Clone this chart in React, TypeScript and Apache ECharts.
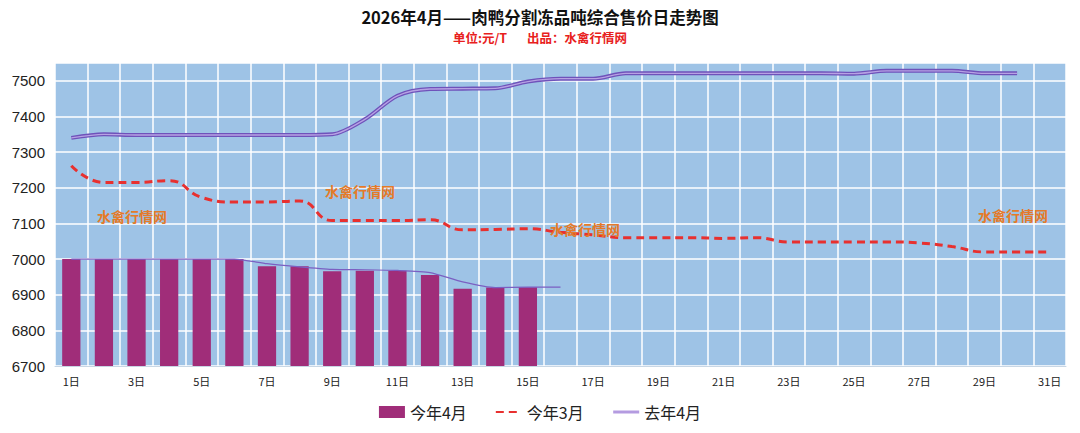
import React, { useEffect, useRef } from "react";
import * as echarts from "echarts";

const days = [
  "1日","2日","3日","4日","5日","6日","7日","8日","9日","10日",
  "11日","12日","13日","14日","15日","16日","17日","18日","19日","20日",
  "21日","22日","23日","24日","25日","26日","27日","28日","29日","30日","31日",
];

// 今年4月 (bars)
const thisApril = [7000, 7000, 7000, 7000, 7000, 7000, 6980, 6980, 6966, 6967, 6967, 6955, 6917, 6920, 6921];

// thin trend line drawn over the bars
const thisAprilTrend = [7000, 7000, 7000, 7000, 7000, 7000, 6987, 6978, 6971, 6970, 6968, 6962, 6936, 6920, 6921, 6921];

// 今年3月
const thisMarch = [
  7262, 7215, 7215, 7220, 7173, 7160, 7160, 7163, 7108, 7108,
  7108, 7110, 7082, 7083, 7085, 7075, 7068, 7060, 7060, 7060,
  7058, 7060, 7048, 7048, 7048, 7048, 7045, 7035, 7020, 7020, 7020,
];

// 去年4月
const lastApril = [
  7340, 7350, 7348, 7348, 7348, 7348, 7348, 7348, 7350, 7392,
  7458, 7477, 7478, 7479, 7498, 7506, 7506, 7521, 7521, 7521,
  7521, 7521, 7521, 7521, 7520, 7528, 7528, 7528, 7521, 7521,
];

const yTicks = { min: 6700, max: 7550, interval: 100 };

const watermark = "水禽行情网";

export default function App() {
  const ref = useRef<HTMLDivElement>(null);

  useEffect(() => {
    document.body.style.margin = "0";
    if (!ref.current) return;
    const chart = echarts.init(ref.current, undefined, { renderer: "svg" });
    const wmStyle = {
      fill: "#e57a28",
      font: "bold 14px 'Noto Sans CJK SC', sans-serif",
      text: watermark,
    };
    chart.setOption({
      animation: false,
      backgroundColor: "#ffffff",
      title: {
        text: "2026年4月——肉鸭分割冻品吨综合售价日走势图",
        subtext: "单位:元/T       出品：水禽行情网",
        left: "center",
        top: 2,
        itemGap: 3,
        textStyle: {
          fontSize: 16.5,
          fontWeight: "bold",
          color: "#111",
          lineHeight: 20,
          fontFamily: "'Noto Sans CJK SC', sans-serif",
        },
        subtextStyle: {
          fontSize: 12.5,
          fontWeight: "bold",
          color: "#e8201c",
          lineHeight: 14,
          fontFamily: "'Noto Sans CJK SC', sans-serif",
        },
      },
      legend: {
        bottom: 8,
        left: "center",
        itemWidth: 26,
        itemHeight: 12,
        itemGap: 28,
        textStyle: { fontSize: 16, color: "#222", fontFamily: "'Noto Sans CJK SC', sans-serif" },
        data: [
          { name: "今年4月", icon: "rect" },
          { name: "今年3月", itemStyle: { opacity: 0 } },
          { name: "去年4月", itemStyle: { opacity: 0 }, lineStyle: { width: 3, color: "#b49be0" } },
        ],
      },
      grid: {
        left: 55,
        right: 14,
        top: 63,
        bottom: 67,
        show: true,
        backgroundColor: "#9ec3e6",
        borderWidth: 0,
      },
      xAxis: {
        type: "category",
        data: days,
        boundaryGap: true,
        axisLine: { show: true, lineStyle: { color: "#c8d6e4" } },
        axisTick: { show: false },
        axisLabel: {
          interval: 1,
          fontSize: 11,
          color: "#222",
          margin: 9,
          fontFamily: "'Noto Sans CJK SC', sans-serif",
        },
        splitLine: { show: true, interval: 0, lineStyle: { color: "#ffffff", width: 1.5 } },
      },
      yAxis: {
        type: "value",
        min: yTicks.min,
        max: yTicks.max,
        interval: yTicks.interval,
        axisLine: { show: false },
        axisTick: { show: false },
        axisLabel: {
          fontSize: 15,
          color: "#222",
          margin: 10,
          showMaxLabel: false,
          formatter: (v: number) => String(v),
          fontFamily: "Arial, 'Liberation Sans', sans-serif",
        },
        splitLine: { show: true, lineStyle: { color: "#ffffff", width: 1.5 } },
      },
      series: [
        {
          name: "今年4月",
          type: "bar",
          data: thisApril,
          barWidth: "56%",
          itemStyle: { color: "#a02d79" },
          z: 2,
        },
        {
          name: "trend",
          type: "line",
          data: thisAprilTrend,
          symbol: "none",
          smooth: 0.2,
          lineStyle: { color: "#7b5fc2", width: 1.2 },
          z: 3,
        },
        {
          name: "今年3月",
          type: "line",
          data: thisMarch,
          symbol: "none",
          smooth: 0.5,
          lineStyle: { color: "#e8302f", width: 3, type: [8, 5] },
          itemStyle: { color: "#e8302f" },
          z: 4,
        },
        {
          name: "lastAprilOutline",
          type: "line",
          data: lastApril,
          symbol: "none",
          smooth: 0.3,
          lineStyle: { color: "#6f52ba", width: 4 },
          z: 4,
        },
        {
          name: "去年4月",
          type: "line",
          data: lastApril,
          symbol: "none",
          smooth: 0.3,
          lineStyle: { color: "#b7a2e4", width: 1.3 },
          itemStyle: { color: "#b7a2e4" },
          z: 5,
        },
      ],
      graphic: [
        { type: "text", left: 97, top: 209, style: wmStyle, z: 10 },
        { type: "text", left: 325, top: 184, style: wmStyle, z: 10 },
        { type: "text", left: 550, top: 222, style: wmStyle, z: 10 },
        { type: "text", left: 978, top: 208, style: wmStyle, z: 10 },
      ],
    });
    return () => chart.dispose();
  }, []);

  return <div ref={ref} style={{ width: 1080, height: 433 }} />;
}
